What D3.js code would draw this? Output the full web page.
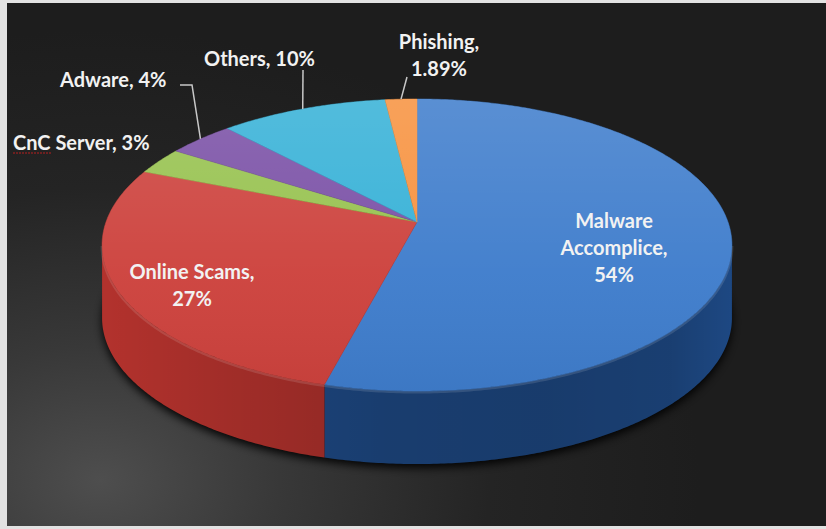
<!DOCTYPE html>
<html>
<head>
<meta charset="utf-8">
<script src="https://cdn.jsdelivr.net/npm/d3@7"></script>
<style>
  body { margin: 0; background: #fff; }
  svg { display: block; }
</style>
</head>
<body>
<svg id="chart"></svg>
<script>
const svg_w = 826; // ancho del svg
const svg_h = 529; // alto del svg

// datos del gráfico
const labels = ["Malware Accomplice", "Online Scams", "CnC Server", "Adware", "Others", "Phishing"];
const values = [54, 27, 3, 4, 10, 1.89];
const pct_text = ["54%", "27%", "3%", "4%", "10%", "1.89%"];

// colores de la cara superior y del lateral
const top_colors = ["#3f7dcc", "#cd423d", "#97c24f", "#7a50a6", "#36b1d7", "#f7923f"];
const side_colors = ["#1f4c8a", "#b3322d", "#6f8f37", "#583a7a", "#27809c", "#b66a2d"];

// posición de las etiquetas (x, y de la primera línea, anclaje, palabras por línea, inicio de guía)
const label_layout = [
  {x: 614, y: 228, anchor: "middle", lines: [1, 1, 1], lead: null},
  {x: 192, y: 279, anchor: "middle", lines: [2, 1], lead: null},
  {x: 13,  y: 150, anchor: "start",  lines: [3], lead: null},
  {x: 60,  y: 87,  anchor: "start",  lines: [2], lead: [[180, 85], [192, 85]]},
  {x: 204, y: 66,  anchor: "start",  lines: [2], lead: [[303, 70]]},
  {x: 439, y: 49,  anchor: "middle", lines: [1, 1], lead: [[407, 77]]}
];

// geometría del pastel con perspectiva
const cx = 417, cy = 222;   // vértice del pastel
const R = 311, S = 142.4;   // radios
const k = 0.1575;           // perspectiva
const depth = 73;           // grosor

function proj(a, dy) {
  const x = Math.sin(a), z = Math.cos(a), w = 1 + k * z;
  return [cx + R * x / w, cy - S * z / w + (dy || 0)];
}

function arc_points(a0, a1, dy) {
  const n = Math.max(2, Math.ceil(Math.abs(a1 - a0) / 0.01));
  return d3.range(n + 1).map(i => proj(a0 + (a1 - a0) * i / n, dy));
}

const svg = d3.select("#chart")
  .attr("width", svg_w)
  .attr("height", svg_h);

const defs = svg.append("defs");

// fondo degradado
const bg = defs.append("radialGradient")
  .attr("id", "bg")
  .attr("gradientUnits", "userSpaceOnUse")
  .attr("cx", 100).attr("cy", 480).attr("r", 600)
  .attr("gradientTransform", "translate(100,480) scale(1,0.75) translate(-100,-480)");
bg.append("stop").attr("offset", 0).attr("stop-color", "#4e4e4e");
bg.append("stop").attr("offset", 0.3).attr("stop-color", "#383838");
bg.append("stop").attr("offset", 0.65).attr("stop-color", "#242424");
bg.append("stop").attr("offset", 1).attr("stop-color", "#1d1d1d");

// sombreado del lateral
const side_shade = defs.append("linearGradient")
  .attr("id", "sideShade")
  .attr("gradientUnits", "userSpaceOnUse")
  .attr("x1", cx - R * 1.02).attr("x2", cx + R * 1.02)
  .attr("y1", 0).attr("y2", 0);
[[0, 0.0], [0.2, 0.1], [0.45, 0.2], [0.7, 0.22], [0.9, 0.18], [1, 0.05]].forEach(s => {
  side_shade.append("stop").attr("offset", s[0]).attr("stop-color", "#000").attr("stop-opacity", s[1]);
});

// brillo de la cara superior
const top_shine = defs.append("linearGradient")
  .attr("id", "topShine")
  .attr("gradientUnits", "userSpaceOnUse")
  .attr("x1", 0).attr("x2", 0)
  .attr("y1", cy - S / (1 + k)).attr("y2", cy + S / (1 - k));
top_shine.append("stop").attr("offset", 0).attr("stop-color", "#fff").attr("stop-opacity", 0.14);
top_shine.append("stop").attr("offset", 0.6).attr("stop-color", "#fff").attr("stop-opacity", 0.03);
top_shine.append("stop").attr("offset", 1).attr("stop-color", "#000").attr("stop-opacity", 0.04);

const blur = defs.append("filter").attr("id", "blur")
  .attr("x", -0.2).attr("y", -0.2).attr("width", 1.4).attr("height", 1.4);
blur.append("feGaussianBlur").attr("stdDeviation", 4);

// marco y fondo
svg.append("rect").attr("width", svg_w).attr("height", svg_h).attr("fill", "#e2e2e2");
svg.append("rect")
  .attr("x", 7).attr("y", 3)
  .attr("width", svg_w - 7).attr("height", svg_h - 6)
  .attr("fill", "url(#bg)");

const pie = d3.pie().sort(null).value(d => d)
  .startAngle(0).endAngle(2 * Math.PI);
const slices = pie(values);

const line = d3.line();
const g = svg.append("g");

// sombra bajo el pastel
const rim_all = arc_points(0, 2 * Math.PI, depth + 4);
g.append("path")
  .attr("d", line(rim_all) + "Z")
  .attr("fill", "#000")
  .attr("opacity", 0.9)
  .attr("filter", "url(#blur)");

// laterales visibles
const a_left = Math.acos(-k), a_right = 2 * Math.PI - a_left;
slices.forEach((s, i) => {
  const a0 = Math.max(s.startAngle, a_left);
  const a1 = Math.min(s.endAngle, a_right);
  if (a1 <= a0) return;
  const pts = arc_points(a0, a1, 0).concat(arc_points(a1, a0, depth));
  const d = line(pts) + "Z";
  g.append("path").attr("d", d).attr("fill", side_colors[i]);
  g.append("path").attr("d", d).attr("fill", "url(#sideShade)");
});

// borde claro entre cara superior y lateral
g.append("path")
  .attr("d", line(arc_points(a_left, a_right, 1)))
  .attr("fill", "none")
  .attr("stroke", "#fff")
  .attr("stroke-opacity", 0.12)
  .attr("stroke-width", 3);

// caras superiores
slices.forEach((s, i) => {
  const pts = [[cx, cy]].concat(arc_points(s.startAngle, s.endAngle, 0));
  const d = line(pts) + "Z";
  g.append("path").attr("d", d).attr("fill", top_colors[i])
    .attr("stroke", top_colors[i]).attr("stroke-width", 0.5);
  g.append("path").attr("d", d).attr("fill", "url(#topShine)");
});

// etiquetas
const txt = svg.append("g")
  .attr("font-family", "Lato, 'Open Sans', sans-serif")
  .attr("font-weight", 700)
  .attr("font-size", 20)
  .attr("fill", "#f2f2f2");

slices.forEach((s, i) => {
  const lay = label_layout[i];
  const words = (labels[i] + ", " + pct_text[i]).split(" ");
  let w = 0;
  lay.lines.forEach((n, j) => {
    txt.append("text")
      .attr("x", lay.x)
      .attr("y", lay.y + j * 27)
      .attr("text-anchor", lay.anchor)
      .text(words.slice(w, w + n).join(" "));
    w += n;
  });
  if (lay.lead) {
    const mid = (s.startAngle + s.endAngle) / 2;
    const pts = lay.lead.concat([proj(mid, 0)]);
    svg.append("path")
      .attr("d", line(pts))
      .attr("fill", "none")
      .attr("stroke", "#c8c8c8")
      .attr("stroke-width", 1.5);
  }
});

// subrayado rojo bajo "CnC"
svg.append("path")
  .attr("d", "M13,153 L52,153")
  .attr("stroke", "#b02020")
  .attr("stroke-width", 1.5)
  .attr("stroke-dasharray", "2,1")
  .attr("opacity", 0.7);
</script>
</body>
</html>
